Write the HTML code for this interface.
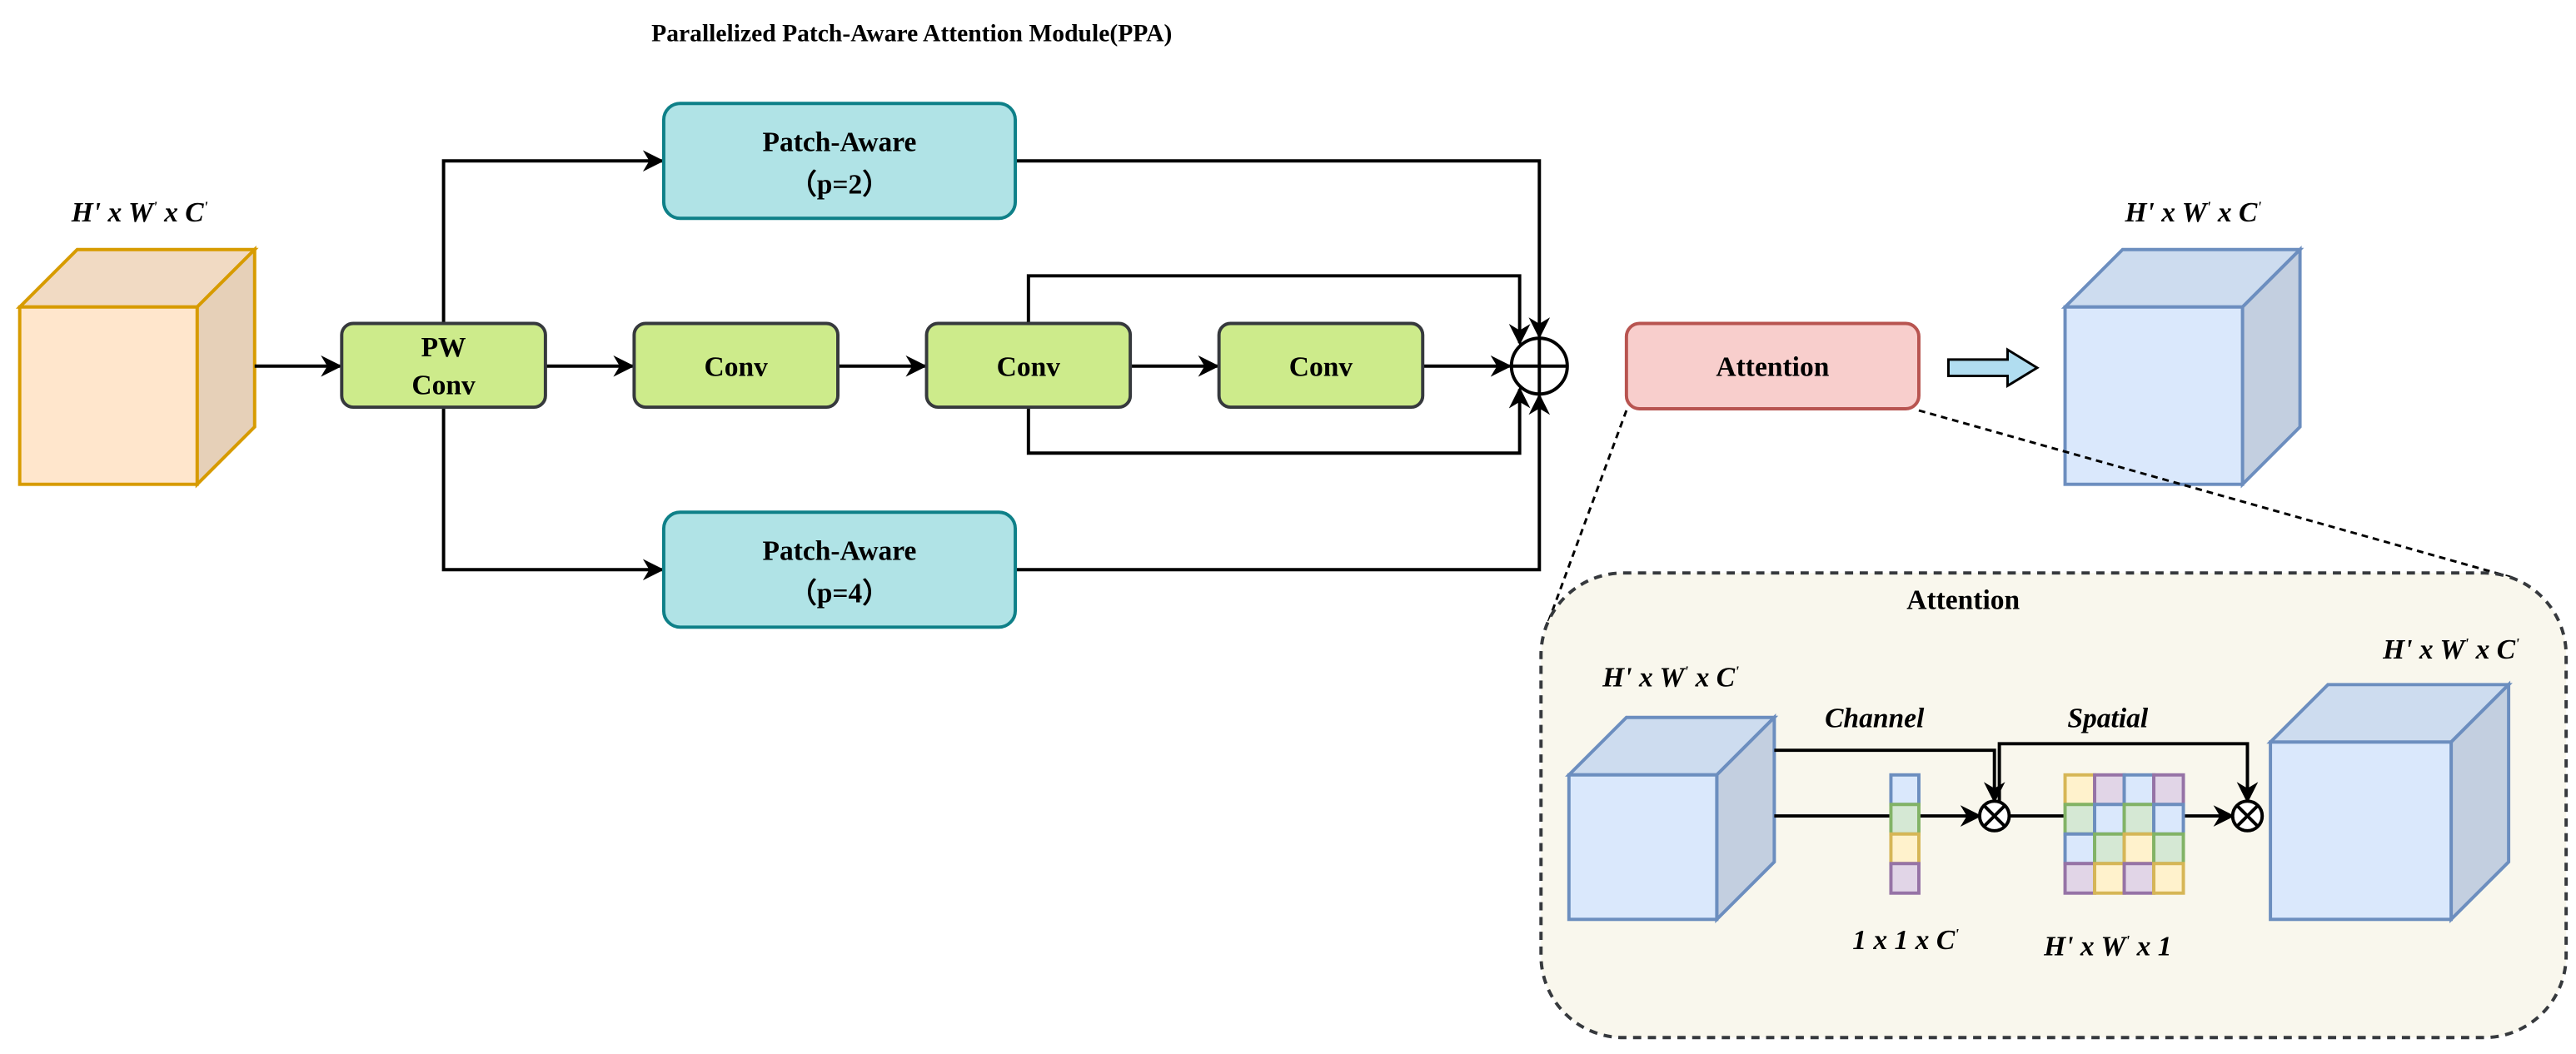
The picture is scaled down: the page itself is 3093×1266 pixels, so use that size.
<!DOCTYPE html>
<html><head><meta charset="utf-8"><style>
html,body{margin:0;padding:0;background:#fff}
svg{display:block}
text{font-family:"Liberation Serif",serif}
</style></head><body>
<svg width="3093" height="1266" viewBox="0 0 1568 642" preserveAspectRatio="none" xmlns="http://www.w3.org/2000/svg">
<defs>
<marker id="b" viewBox="0 0 10 10" refX="9" refY="5" markerWidth="13" markerHeight="13" orient="auto" markerUnits="userSpaceOnUse"><path d="M0,0 L10,5 L0,10 L3,5 z" fill="#000"/></marker>
</defs>
<text x="555" y="25" font-size="15" font-weight="bold" text-anchor="middle">Parallelized Patch-Aware Attention Module(PPA)</text>

<g stroke="#d79b00" stroke-width="2">
<polygon points="12,187 47,152 155,152 120,187" fill="#f1dac3"/>
<polygon points="120,187 155,152 155,260 120,295" fill="#e6d0b8"/>
<rect x="12" y="187" width="108" height="108" fill="#ffe6cc"/>
</g>
<text x="85" y="135" font-size="17" font-weight="bold" font-style="italic" text-anchor="middle">H' x W<tspan dy="-6" font-size="9">'</tspan><tspan dy="6"> x C</tspan><tspan dy="-6" font-size="9">'</tspan></text>

<g stroke="#000" stroke-width="2" fill="none">
<line x1="155" y1="223" x2="207" y2="223" marker-end="url(#b)"/>
<line x1="332" y1="223" x2="385" y2="223" marker-end="url(#b)"/>
<line x1="510" y1="223" x2="563" y2="223" marker-end="url(#b)"/>
<line x1="688" y1="223" x2="741" y2="223" marker-end="url(#b)"/>
<line x1="866" y1="223" x2="919" y2="223" marker-end="url(#b)"/>
<polyline points="270,197 270,98 403,98" marker-end="url(#b)"/>
<polyline points="270,248 270,347 403,347" marker-end="url(#b)"/>
<polyline points="618,98 937,98 937,205" marker-end="url(#b)"/>
<polyline points="618,347 937,347 937,241" marker-end="url(#b)"/>
<polyline points="626,197 626,168 925,168 925,209" marker-end="url(#b)"/>
<polyline points="626,248 626,276 925,276 925,237" marker-end="url(#b)"/>
<circle cx="937" cy="223" r="17" fill="#fff"/>
<line x1="920" y1="223" x2="954" y2="223"/>
<line x1="937" y1="206" x2="937" y2="240"/>
</g>

<g stroke="#36393d" stroke-width="2" fill="#cdeb8b">
<rect x="208" y="197" width="124" height="51" rx="7"/>
<rect x="386" y="197" width="124" height="51" rx="7"/>
<rect x="564" y="197" width="124" height="51" rx="7"/>
<rect x="742" y="197" width="124" height="51" rx="7"/>
</g>
<g stroke="#0e8088" stroke-width="2" fill="#b0e3e6">
<rect x="404" y="63" width="214" height="70" rx="10"/>
<rect x="404" y="312" width="214" height="70" rx="10"/>
</g>
<g font-size="17" font-weight="bold" text-anchor="middle">
<text x="270" y="217">PW</text><text x="270" y="240">Conv</text>
<text x="448" y="229">Conv</text><text x="626" y="229">Conv</text><text x="804" y="229">Conv</text>
<text x="511" y="92">Patch-Aware</text><text x="511" y="118">（p=2）</text>
<text x="511" y="341">Patch-Aware</text><text x="511" y="367">（p=4）</text>
</g>

<rect x="990" y="197" width="178" height="52" rx="8" fill="#f8cecc" stroke="#b85450" stroke-width="2"/>
<text x="1079" y="229" font-size="17" font-weight="bold" text-anchor="middle">Attention</text>
<polygon points="1186,219 1222,219 1222,213 1240,224 1222,235 1222,229 1186,229" fill="#b1ddf0" stroke="#000" stroke-width="1.5"/>

<g stroke="#6c8ebf" stroke-width="2">
<polygon points="1257,187 1292,152 1400,152 1365,187" fill="#cddcef"/>
<polygon points="1365,187 1400,152 1400,260 1365,295" fill="#c3cfe0"/>
<rect x="1257" y="187" width="108" height="108" fill="#dae8fc"/>
</g>
<text x="1335" y="135" font-size="17" font-weight="bold" font-style="italic" text-anchor="middle">H' x W<tspan dy="-6" font-size="9">'</tspan><tspan dy="6"> x C</tspan><tspan dy="-6" font-size="9">'</tspan></text>

<g stroke="#000" stroke-width="1.5" stroke-dasharray="4,3" fill="none">
<line x1="990" y1="250" x2="942" y2="380"/>
<line x1="1168" y1="250" x2="1530" y2="352"/>
</g>
<rect x="938" y="349" width="624" height="283" rx="50" fill="#f9f7ed" stroke="#36393d" stroke-width="2" stroke-dasharray="5,4"/>
<text x="1195" y="371" font-size="17" font-weight="bold" text-anchor="middle">Attention</text>

<g stroke="#6c8ebf" stroke-width="2">
<polygon points="955,472 990,437 1080,437 1045,472" fill="#cddcef"/>
<polygon points="1045,472 1080,437 1080,525 1045,560" fill="#c3cfe0"/>
<rect x="955" y="472" width="90" height="88" fill="#dae8fc"/>
<polygon points="1382,452 1417,417 1527,417 1492,452" fill="#cddcef"/>
<polygon points="1492,452 1527,417 1527,525 1492,560" fill="#c3cfe0"/>
<rect x="1382" y="452" width="110" height="108" fill="#dae8fc"/>
</g>
<g font-size="17" font-weight="bold" font-style="italic" text-anchor="middle">
<text x="1017" y="418">H' x W<tspan dy="-6" font-size="9">'</tspan><tspan dy="6"> x C</tspan><tspan dy="-6" font-size="9">'</tspan></text>
<text x="1492" y="401">H' x W<tspan dy="-6" font-size="9">'</tspan><tspan dy="6"> x C</tspan><tspan dy="-6" font-size="9">'</tspan></text>
<text x="1141" y="443">Channel</text>
<text x="1283" y="443">Spatial</text>
<text x="1160" y="578">1 x 1 x C<tspan dy="-6" font-size="9">'</tspan></text>
<text x="1283" y="582">H' x W<tspan dy="-6" font-size="9">'</tspan><tspan dy="6"> x 1</tspan></text>
</g>

<g stroke="#000" stroke-width="2" fill="none">
<polyline points="1080,457 1214,457 1214,488" marker-end="url(#b)"/>
<line x1="1080" y1="497" x2="1205" y2="497" marker-end="url(#b)"/>
<polyline points="1217,490 1217,453 1368,453 1368,488" marker-end="url(#b)"/>
<line x1="1223" y1="497" x2="1359" y2="497" marker-end="url(#b)"/>
<circle cx="1214" cy="497" r="9" fill="#fff"/>
<line x1="1208" y1="491" x2="1220" y2="503"/><line x1="1220" y1="491" x2="1208" y2="503"/>
<circle cx="1368" cy="497" r="9" fill="#fff"/>
<line x1="1362" y1="491" x2="1374" y2="503"/><line x1="1374" y1="491" x2="1362" y2="503"/>
</g>

<g stroke-width="2">
<rect x="1151" y="472" width="17" height="18" fill="#dae8fc" stroke="#6c8ebf"/>
<rect x="1151" y="490" width="17" height="18" fill="#d5e8d4" stroke="#82b366"/>
<rect x="1151" y="508" width="17" height="18" fill="#fff2cc" stroke="#d6b656"/>
<rect x="1151" y="526" width="17" height="18" fill="#e1d5e7" stroke="#9673a6"/>

<rect x="1257" y="472" width="18" height="18" fill="#fff2cc" stroke="#d6b656"/>
<rect x="1275" y="472" width="18" height="18" fill="#e1d5e7" stroke="#9673a6"/>
<rect x="1293" y="472" width="18" height="18" fill="#dae8fc" stroke="#6c8ebf"/>
<rect x="1311" y="472" width="18" height="18" fill="#e1d5e7" stroke="#9673a6"/>
<rect x="1257" y="490" width="18" height="18" fill="#d5e8d4" stroke="#82b366"/>
<rect x="1275" y="490" width="18" height="18" fill="#dae8fc" stroke="#6c8ebf"/>
<rect x="1293" y="490" width="18" height="18" fill="#d5e8d4" stroke="#82b366"/>
<rect x="1311" y="490" width="18" height="18" fill="#dae8fc" stroke="#6c8ebf"/>
<rect x="1257" y="508" width="18" height="18" fill="#dae8fc" stroke="#6c8ebf"/>
<rect x="1275" y="508" width="18" height="18" fill="#d5e8d4" stroke="#82b366"/>
<rect x="1293" y="508" width="18" height="18" fill="#fff2cc" stroke="#d6b656"/>
<rect x="1311" y="508" width="18" height="18" fill="#d5e8d4" stroke="#82b366"/>
<rect x="1257" y="526" width="18" height="18" fill="#e1d5e7" stroke="#9673a6"/>
<rect x="1275" y="526" width="18" height="18" fill="#fff2cc" stroke="#d6b656"/>
<rect x="1293" y="526" width="18" height="18" fill="#e1d5e7" stroke="#9673a6"/>
<rect x="1311" y="526" width="18" height="18" fill="#fff2cc" stroke="#d6b656"/>
</g>
</svg>
</body></html>
